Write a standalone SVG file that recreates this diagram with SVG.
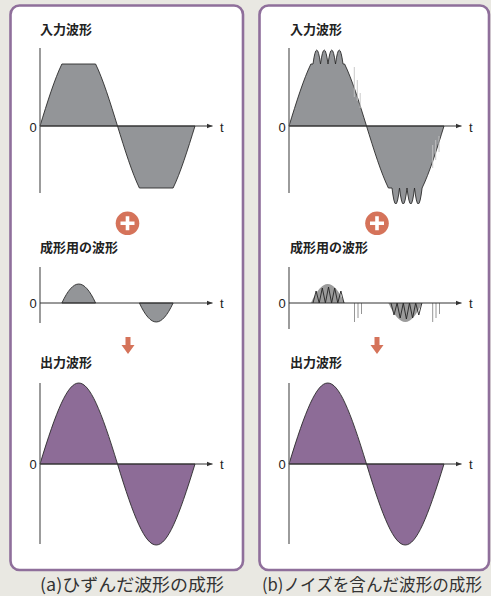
<svg xmlns="http://www.w3.org/2000/svg" width="491" height="596" viewBox="0 0 491 596">
<defs>
<style>
.bg{fill:#e9e8e2}
.panel{fill:#fff;stroke:#8f6f9b;stroke-width:2.6}
.title{font-family:"Noto Sans CJK JP",sans-serif;font-size:13px;font-weight:bold;fill:#222}
.lab{font-family:"Liberation Sans",Arial,sans-serif;font-size:13px;fill:#222}
.cap{font-family:"Noto Sans CJK JP",sans-serif;font-size:17px;fill:#333}
.vax{stroke:#666;stroke-width:1.3;fill:none}
.hax{stroke:#333;stroke-width:1;fill:none}
.gray{fill:#939598;stroke:#2a2a2a;stroke-width:0.9}
.purple{fill:#8d6c97;stroke:#2a2a2a;stroke-width:0.9}
.bump{fill:#9b9b9b}
.zig{fill:none;stroke:#222;stroke-width:0.9}
.noise{stroke:#c4c4c4;stroke-width:0.9}
.noise2{stroke:#8a8a8a;stroke-width:0.9}
.accent{fill:#d5735a}
.plusbar{stroke:#fff;stroke-width:3.6}
</style>
<marker id="ah" viewBox="0 0 6 6" refX="6" refY="3" markerWidth="6" markerHeight="6" orient="auto" markerUnits="userSpaceOnUse"><path d="M0,0.6 L6,3 L0,5.4 Z" fill="#333"/></marker>
</defs>
<rect class="bg" x="0" y="0" width="491" height="596"/>

<g id="panel-a">
<rect class="panel" x="10.5" y="5.5" width="232.5" height="564.5" rx="9"/>
<g id="input-a">
<text class="title" x="40" y="34">入力波形</text>
<path class="gray" d="M40,126 C47.29,102.35 54.61,78.95 61.9,64 L95.6,64 C102.89,78.95 110.21,102.35 117.5,126 C124.79,149.65 132.11,173.05 139.4,188 L173.1,188 C180.39,173.05 187.71,149.65 195,126 Z"/>
<line class="vax" x1="40" y1="48" x2="40" y2="193"/>
<line class="hax" x1="40" y1="126" x2="212.5" y2="126" marker-end="url(#ah)"/>
<text class="lab" x="29.5" y="131.5">0</text>
<text class="lab" x="220" y="131.5">t</text>
</g>
<g id="plus-a">
<circle class="accent" cx="127.5" cy="223.3" r="11.8"/>
<path class="plusbar" d="M120.5,223.3H134.5M127.5,216.3V230.3"/>
</g>
<g id="shaping-a">
<text class="title" x="40" y="252">成形用の波形</text>
<path class="gray" d="M61.9,303 C73.6,277.7 83.9,277.7 95.6,303 Z"/>
<path class="gray" d="M139.4,303 C151.1,328.3 161.4,328.3 173.1,303 Z"/>
<line class="vax" x1="40" y1="267" x2="40" y2="323"/>
<line class="hax" x1="40" y1="303" x2="212.5" y2="303" marker-end="url(#ah)"/>
<text class="lab" x="29.5" y="308">0</text>
<text class="lab" x="220" y="308">t</text>
</g>
<g id="output-a">
<text class="title" x="40" y="367">出力波形</text>
<path class="purple" d="M40,464 C72.9,356 84.6,356 117.5,464 C150.4,572 162.1,572 195,464 Z"/>
<line class="vax" x1="40" y1="383" x2="40" y2="544"/>
<line class="hax" x1="40" y1="464" x2="212.5" y2="464" marker-end="url(#ah)"/>
<text class="lab" x="29.5" y="469">0</text>
<text class="lab" x="220" y="469">t</text>
</g>
</g>

<g id="panel-b">
<rect class="panel" x="259.5" y="5.5" width="229.5" height="564.5" rx="9"/>
<g id="input-b">
<text class="title" x="290" y="34">入力波形</text>
<path class="gray" d="M289,126 C296.29,102.35 303.61,78.95 310.9,64 L313,64 Q316.75,36 320.5,64 Q324.25,36 328,64 Q331.75,36 335.5,64 Q339.25,36 343,64 L344.6,64 C351.89,78.95 359.21,102.35 366.5,126 C373.79,149.65 381.11,173.05 388.4,188 L392,188 Q395.75,220 399.5,188 Q403.25,220 407,188 Q410.75,220 414.5,188 Q418.25,220 422.1,188 C429.39,173.05 436.71,149.65 444,126 Z"/>
<path class="noise" d="M354.3,67V97M357.3,80V101M360.2,93V108M432.7,145V168M435.7,140V160M439,136V152"/>
<line class="vax" x1="289" y1="48" x2="289" y2="193"/>
<line class="hax" x1="289" y1="126" x2="461.5" y2="126" marker-end="url(#ah)"/>
<text class="lab" x="278.5" y="131.5">0</text>
<text class="lab" x="469" y="131.5">t</text>
</g>
<g id="plus-b">
<circle class="accent" cx="377" cy="223.3" r="11.8"/>
<path class="plusbar" d="M370,223.3H384M377,216.3V230.3"/>
</g>
<g id="shaping-b">
<text class="title" x="290" y="252">成形用の波形</text>
<path class="bump" d="M310.9,303 C322.6,277.7 332.9,277.7 344.6,303 Z"/>
<path class="bump" d="M388.4,303 C400.1,328.3 410.4,328.3 422.1,303 Z"/>
<path class="zig" d="M313,303 L316.1,291 L319.2,303 L322.3,288 L325.4,303 L328.5,287 L331.6,303 L334.7,288 L337.8,303 L340.9,291 L344,303"/>
<path class="zig" d="M391,303 L394,315 L397.1,303 L400.2,318 L403.3,303 L406.4,319 L409.5,303 L412.6,318 L415.7,303 L418.8,315 L421.9,303"/>
<path class="noise2" d="M354.5,303V322M358,303V318M361.5,303V314M432.7,303V322M436,303V318M439.5,303V314"/>
<line class="vax" x1="289" y1="267" x2="289" y2="329"/>
<line class="hax" x1="289" y1="303" x2="461.5" y2="303" marker-end="url(#ah)"/>
<text class="lab" x="278.5" y="308">0</text>
<text class="lab" x="469" y="308">t</text>
</g>
<g id="output-b">
<text class="title" x="290" y="367">出力波形</text>
<path class="purple" d="M289,464 C321.9,356 333.6,356 366.5,464 C399.4,572 411.1,572 444,464 Z"/>
<line class="vax" x1="289" y1="383" x2="289" y2="544"/>
<line class="hax" x1="289" y1="464" x2="461.5" y2="464" marker-end="url(#ah)"/>
<text class="lab" x="278.5" y="469">0</text>
<text class="lab" x="469" y="469">t</text>
</g>
</g>

<g id="connectors">
<path class="accent" d="M125.5,337 H130.5 V345 H134.5 L128,354 L121.5,345 H125.5 Z"/>
<path class="accent" d="M374.5,337 H379.5 V345 H383.5 L377,354 L370.5,345 H374.5 Z"/>
</g>

<text class="cap" x="40" y="591" textLength="184" lengthAdjust="spacingAndGlyphs">(a)ひずんだ波形の成形</text>
<text class="cap" x="262" y="591" textLength="220" lengthAdjust="spacingAndGlyphs">(b)ノイズを含んだ波形の成形</text>
</svg>
